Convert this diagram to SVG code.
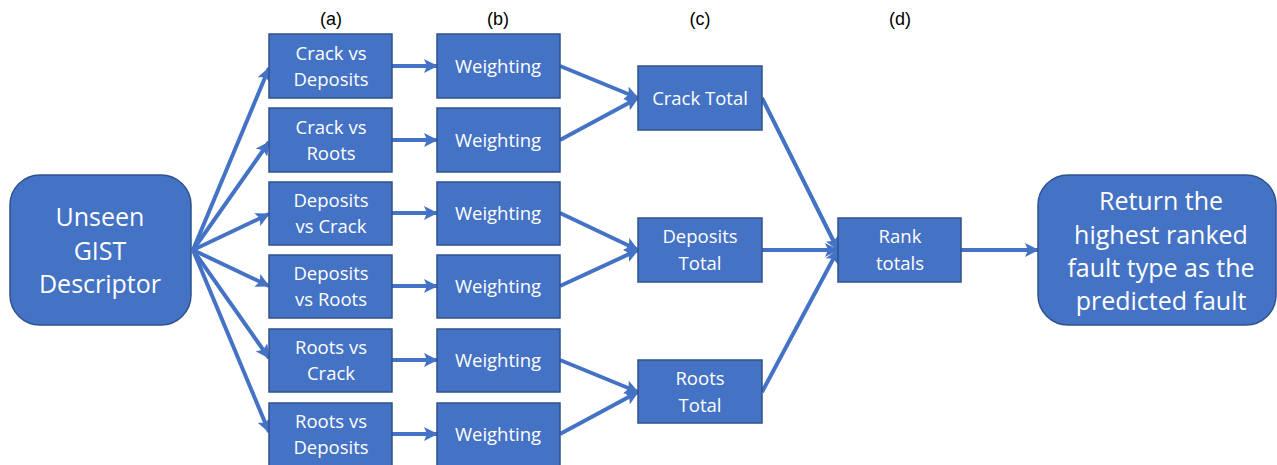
<svg xmlns="http://www.w3.org/2000/svg" width="1277" height="465" viewBox="0 0 1277 465">
<style>
.box{fill:#4472C4;stroke:#2F528F;stroke-width:1.5}
.t{font-family:"Open Sans","Noto Sans",sans-serif;font-size:18.5px;fill:#fff;text-anchor:middle}
.big{font-family:"Open Sans","Noto Sans",sans-serif;font-size:25px;fill:#fff;text-anchor:middle}
.lab{font-family:"Liberation Sans",Arial,sans-serif;font-size:18px;fill:#000;text-anchor:middle}
.c{stroke:#4472C4;stroke-width:4;fill:none;marker-end:url(#ah)}
</style>
<defs>
<marker id="ah" markerUnits="userSpaceOnUse" markerWidth="14" markerHeight="14" refX="13" refY="7" orient="auto">
<path d="M0,0 L14,7 L0,14 L3,7 Z" fill="#4472C4"/>
</marker>
</defs>
<rect width="1277" height="465" fill="#fff"/>
<g id="labels">
<text class="lab" x="331" y="25">(a)</text>
<text class="lab" x="498" y="25">(b)</text>
<text class="lab" x="700" y="25">(c)</text>
<text class="lab" x="900" y="25">(d)</text>
</g>
<g id="connectors">
<line class="c" x1="193" y1="250" x2="269" y2="68"/>
<line class="c" x1="193" y1="250" x2="269" y2="142"/>
<line class="c" x1="193" y1="250" x2="269" y2="214"/>
<line class="c" x1="193" y1="250" x2="269" y2="286"/>
<line class="c" x1="193" y1="250" x2="269" y2="358"/>
<line class="c" x1="193" y1="250" x2="269" y2="432"/>
<line class="c" x1="392" y1="66" x2="437" y2="66"/>
<line class="c" x1="392" y1="140" x2="437" y2="140"/>
<line class="c" x1="392" y1="213" x2="437" y2="213"/>
<line class="c" x1="392" y1="286" x2="437" y2="286"/>
<line class="c" x1="392" y1="360" x2="437" y2="360"/>
<line class="c" x1="392" y1="434" x2="437" y2="434"/>
<line class="c" x1="560" y1="66" x2="638" y2="98"/>
<line class="c" x1="560" y1="140" x2="638" y2="98"/>
<line class="c" x1="560" y1="213" x2="638" y2="250"/>
<line class="c" x1="560" y1="286" x2="638" y2="250"/>
<line class="c" x1="560" y1="360" x2="638" y2="392"/>
<line class="c" x1="560" y1="434" x2="638" y2="392"/>
<line class="c" x1="762" y1="98" x2="838" y2="250"/>
<line class="c" x1="762" y1="250" x2="838" y2="250"/>
<line class="c" x1="762" y1="392" x2="838" y2="250"/>
<line class="c" x1="961" y1="250" x2="1038" y2="250"/>
</g>
<g id="src">
<rect class="box" x="10" y="175" width="181" height="150" rx="30"/>
<text class="big" x="100" y="226">Unseen</text>
<text class="big" x="100" y="260">GIST</text>
<text class="big" x="100" y="293">Descriptor</text>
</g>
<g id="a1"><rect class="box" x="269" y="34" width="123" height="64"/><text class="t" x="331" y="60">Crack vs</text><text class="t" x="331" y="86">Deposits</text></g>
<g id="a2"><rect class="box" x="269" y="108" width="123" height="64"/><text class="t" x="331" y="134">Crack vs</text><text class="t" x="331" y="160">Roots</text></g>
<g id="a3"><rect class="box" x="269" y="182" width="123" height="63"/><text class="t" x="331" y="207">Deposits</text><text class="t" x="331" y="233">vs Crack</text></g>
<g id="a4"><rect class="box" x="269" y="255" width="123" height="63"/><text class="t" x="331" y="280">Deposits</text><text class="t" x="331" y="306">vs Roots</text></g>
<g id="a5"><rect class="box" x="269" y="329" width="123" height="63"/><text class="t" x="331" y="354">Roots vs</text><text class="t" x="331" y="380">Crack</text></g>
<g id="a6"><rect class="box" x="269" y="403" width="123" height="64"/><text class="t" x="331" y="428">Roots vs</text><text class="t" x="331" y="454">Deposits</text></g>
<g id="b1"><rect class="box" x="437" y="34" width="123" height="64"/><text class="t" x="498" y="73">Weighting</text></g>
<g id="b2"><rect class="box" x="437" y="108" width="123" height="64"/><text class="t" x="498" y="147">Weighting</text></g>
<g id="b3"><rect class="box" x="437" y="182" width="123" height="63"/><text class="t" x="498" y="220">Weighting</text></g>
<g id="b4"><rect class="box" x="437" y="255" width="123" height="63"/><text class="t" x="498" y="293">Weighting</text></g>
<g id="b5"><rect class="box" x="437" y="329" width="123" height="63"/><text class="t" x="498" y="367">Weighting</text></g>
<g id="b6"><rect class="box" x="437" y="403" width="123" height="64"/><text class="t" x="498" y="441">Weighting</text></g>
<g id="c1"><rect class="box" x="638" y="66" width="124" height="64"/><text class="t" x="700" y="105">Crack Total</text></g>
<g id="c2"><rect class="box" x="638" y="218" width="124" height="64"/><text class="t" x="700" y="243">Deposits</text><text class="t" x="700" y="270">Total</text></g>
<g id="c3"><rect class="box" x="638" y="360" width="124" height="63"/><text class="t" x="700" y="385">Roots</text><text class="t" x="700" y="412">Total</text></g>
<g id="d"><rect class="box" x="838" y="218" width="123" height="64"/><text class="t" x="900" y="243">Rank</text><text class="t" x="900" y="270">totals</text></g>
<g id="out">
<rect class="box" x="1038" y="175" width="238" height="150" rx="30"/>
<text class="big" x="1161" y="210">Return the</text>
<text class="big" x="1161" y="244">highest ranked</text>
<text class="big" x="1161" y="277">fault type as the</text>
<text class="big" x="1161" y="310">predicted fault</text>
</g>
</svg>
